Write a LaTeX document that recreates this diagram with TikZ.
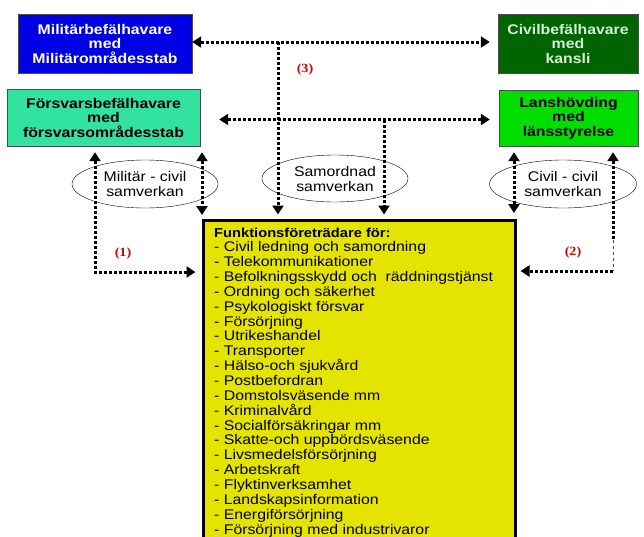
\documentclass[tikz,border=0pt]{standalone}
\usepackage{fontspec}
\setmainfont{Liberation Sans}[FakeStretch=1.13]
\newfontfamily\numfont{Liberation Serif}[FakeStretch=1.13]
\usepackage{tikz}
\usetikzlibrary{arrows.meta,positioning,shapes.geometric,calc}

\definecolor{milblue}{RGB}{0,0,228}
\definecolor{civgreen}{RGB}{0,100,0}
\definecolor{fbhteal}{RGB}{50,226,160}
\definecolor{langreen}{RGB}{0,222,0}
\definecolor{funkyellow}{RGB}{228,228,0}
\definecolor{civtext}{RGB}{215,240,215}

\begin{document}
\begin{tikzpicture}[
  x=1pt, y=-1pt,
  every node/.style={font=\fontsize{14}{15}\selectfont},
  tbox/.style={rectangle, draw=black!70, align=center, inner sep=0,
    font=\bfseries\fontsize{14}{14.5}\selectfont},
  samv/.style={ellipse, draw, thin, align=center, inner sep=0,
    minimum width=146pt, minimum height=48pt},
  funkbox/.style={rectangle, draw, line width=3pt, fill=funkyellow, inner sep=0},
  item/.style={anchor=base west, inner sep=0},
  num/.style={font=\numfont\bfseries\fontsize{12.5}{13}\selectfont, text=red!85!black},
  conn/.style={line width=3pt, dash pattern=on 3pt off 2pt},
  >={Triangle[length=9pt,width=11pt]},
]
\useasboundingbox (0,0) rectangle (644,536);
\clip (0,0) rectangle (644,536);

%% ── boxes ───────────────────────────────────────────────────────────────
\node[tbox, fill=milblue, text=white, minimum width=174pt, minimum height=59pt]
  (mbh) at (105,43.5) {Militärbefälhavare\\med\\Militärområdesstab};
\node[tbox, fill=civgreen, text=civtext, minimum width=140pt, minimum height=59pt]
  (cbh) at (568,43.5) {Civilbefälhavare\\med\\kansli};
\node[tbox, fill=fbhteal, minimum width=193pt, minimum height=57pt]
  (fbh) at (103.5,117.5) {Försvarsbefälhavare\\med\\försvarsområdesstab};
\node[tbox, fill=langreen, minimum width=139pt, minimum height=56pt]
  (lan) at (568.5,118) {Lanshövding\\med\\länsstyrelse};

%% ── samverkan ellipses ──────────────────────────────────────────────────
\node[samv] (mcs) at (145,184) {Militär - civil\\samverkan};
\node[samv, minimum height=47pt] (sam) at (335,178.5) {Samordnad\\samverkan};
\node[samv, minimum width=147pt] (ccs) at (563,184) {Civil - civil\\samverkan};

%% ── function box ────────────────────────────────────────────────────────
\node[funkbox, anchor=north west, minimum width=312pt, minimum height=340pt]
  (funk) at (201.5,218.5) {};
\node[item, font=\bfseries\fontsize{13}{14}\selectfont] (head) at (214,237.5)
  {Funktionsföreträdare för:};
\foreach \txt [count=\i] in {Civil ledning och samordning, Telekommunikationer,
    Befolkningsskydd och\ \ räddningstjänst, Ordning och säkerhet,
    Psykologiskt försvar, Försörjning, Utrikeshandel, Transporter,
    Hälso-och sjukvård, Postbefordran, Domstolsväsende mm, Kriminalvård,
    Socialförsäkringar mm, Skatte-och uppbördsväsende, Livsmedelsförsörjning,
    Arbetskraft, Flyktinverksamhet, Landskapsinformation, Energiförsörjning,
    Försörjning med industrivaror} {
  \node[item] (item\i) at (214,237+\i*14.85) {- \txt};
}

%% ── labels ──────────────────────────────────────────────────────────────
\node[num] (n3) at (305,69) {(3)};
\node[num] (n1) at (123,253) {(1)};
\node[num] (n2) at (573,252) {(2)};

%% ── connectors ──────────────────────────────────────────────────────────
\coordinate (t3) at (278,42);
\coordinate (t4) at (384,119.5);
\draw[conn, <->, shorten >=8pt] (mbh.east |- t3) -- (cbh.west |- t3);
\draw[conn, <->, shorten <=19pt, shorten >=9pt] (fbh.east |- t4) -- (lan.west |- t4);
\draw[conn, ->, shorten >=4pt] (t3) -- (t3 |- funk.north);
\draw[conn, ->, shorten >=4pt] (t4) -- (t4 |- funk.north);

% left side (1)
\coordinate (c1) at (95,272);
\coordinate (c2) at (202,218);
\draw[conn, <->, shorten <=6pt, shorten >=6pt] (fbh.south -| c1) -- (c1) -- (funk.west |- c1);
\draw[conn, <->, shorten <=6pt, shorten >=3pt] (fbh.south -| c2) -- (c2);

% right side (2)
\coordinate (c3) at (514,216);
\coordinate (c4) at (613,271);
\coordinate (c5) at (613,240);
\draw[conn, <->, shorten <=6pt, shorten >=3pt] (lan.south -| c3) -- (c3);
\draw[conn, <-, shorten <=6pt] (lan.south -| c5) -- (c5);
\draw[line width=1pt, dashed, black!70] (c5) -- (c4);
\draw[conn, ->, shorten >=4pt] (c4) -- (funk.east |- c4);

\end{tikzpicture}
\end{document}
